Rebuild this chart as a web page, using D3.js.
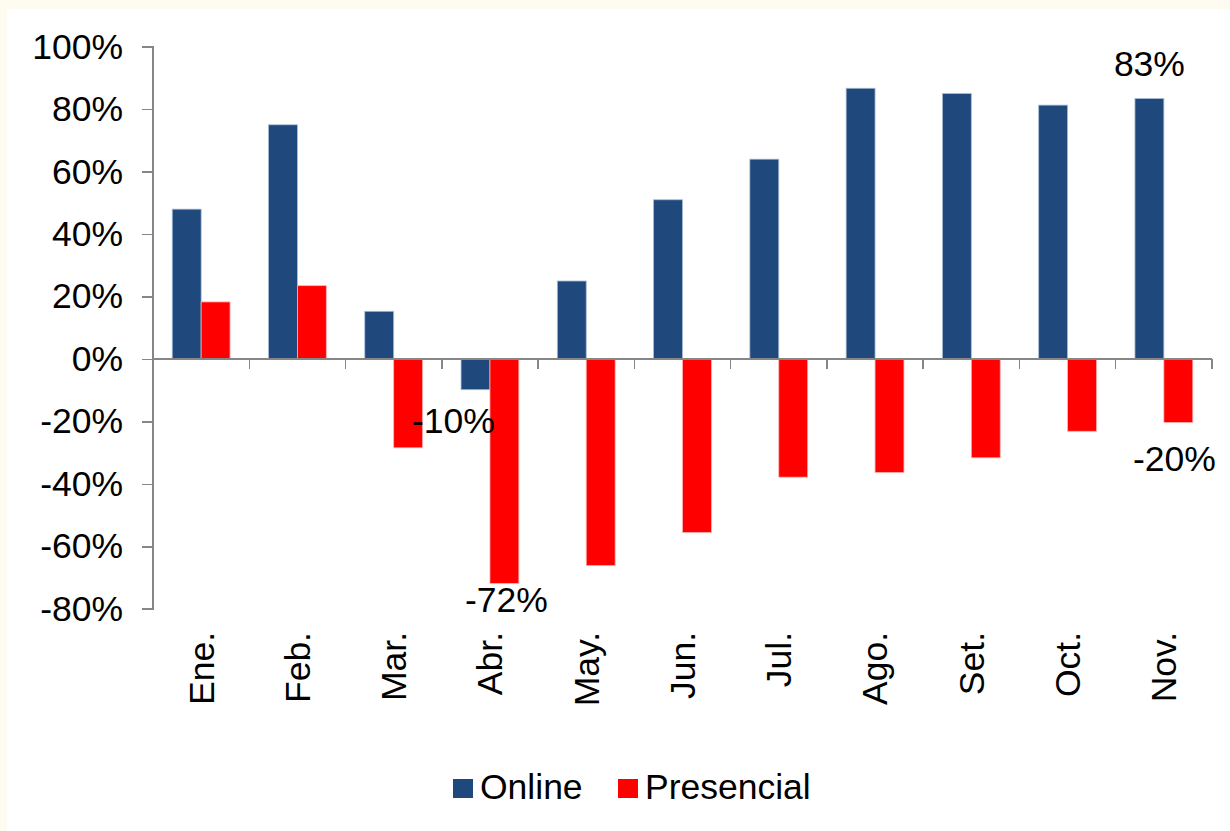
<!DOCTYPE html>
<html>
<head>
    <title>Online vs Presencial</title>
    <script src="https://d3js.org/d3.v7.min.js"></script>
    <style>
        body { margin: 0; background: #fefbf1; }
        text { font-family: "Liberation Sans", Arial, sans-serif; fill: #000; }
        .axis path, .axis line {
            stroke: #868686;
            stroke-width: 1.5;
            shape-rendering: crispEdges;
        }
        .axis text { font-size: 35.5px; }
    </style>
</head>
<body>
    <svg id="chart"></svg>

    <script>
        // data
        var months = ["Ene.", "Feb.", "Mar.", "Abr.", "May.", "Jun.", "Jul.", "Ago.", "Set.", "Oct.", "Nov."];
        var series = ["Online", "Presencial"];
        var online = [48, 75, 15.3, -9.8, 25, 51, 64, 86.7, 85, 81.3, 83.4];
        var presencial = [18.3, 23.5, -28.4, -71.8, -66.1, -55.5, -37.8, -36.3, -31.6, -23.1, -20.3];
        var colors = ["#1f497d", "#ff0000"];
        var yTicks = [100, 80, 60, 40, 20, 0, -20, -40, -60, -80];

        // the four labels shown on the chart: series, month, text, offsets from the bar end
        var labels = [
            {s: 0, m: "Nov.", text: "83%", dx: 0, dy: -23},
            {s: 0, m: "Abr.", text: "-10%", dx: -22, dy: 43},
            {s: 1, m: "Abr.", text: "-72%", dx: 2, dy: 29},
            {s: 1, m: "Nov.", text: "-20%", dx: -4, dy: 48}
        ];

        var W = 1230, H = 831;
        var margin = {top: 46.7, right: 18, bottom: 222, left: 153};
        var fs = "35.5px";

        var svg = d3.select("#chart")
            .attr("width", W)
            .attr("height", H)
            .style("display", "block");

        // white panel with cream strip on top/left
        svg.append("rect")
            .attr("x", 7).attr("y", 9)
            .attr("width", W - 7).attr("height", H - 9)
            .attr("fill", "#fff");

        var x = d3.scaleBand()
            .domain(months)
            .range([margin.left, W - margin.right])
            .paddingInner(0).paddingOuter(0);

        var x1 = d3.scaleBand()
            .domain(series)
            .range([0, x.bandwidth()])
            .paddingInner(0).paddingOuter(0.665);

        var y = d3.scaleLinear()
            .domain([-80, 100])
            .range([H - margin.bottom, margin.top]);

        var rows = months.map(function(m, i) {
            return {month: m, values: [online[i], presencial[i]]};
        });

        // bars
        var groups = svg.selectAll(".grp")
            .data(rows)
            .enter().append("g")
            .attr("class", "grp")
            .attr("transform", function(d) { return "translate(" + x(d.month) + ",0)"; });

        groups.selectAll("rect")
            .data(function(d) { return d.values.map(function(v, i) { return {s: i, v: v}; }); })
            .enter().append("rect")
            .attr("x", function(d) { return x1(series[d.s]); })
            .attr("y", function(d) { return y(Math.max(0, d.v)); })
            .attr("width", x1.bandwidth())
            .attr("height", function(d) { return Math.abs(y(d.v) - y(0)); })
            .attr("fill", function(d) { return colors[d.s]; })
            .attr("stroke", function(d) { return d.s === 0 ? "#a9bcd6" : "#ffb0b0"; })
            .attr("stroke-width", 0.8);

        // y axis
        var yAxis = d3.axisLeft(y)
            .tickValues(yTicks)
            .tickSize(11)
            .tickPadding(19)
            .tickFormat(function(d) { return d + "%"; });

        svg.append("g")
            .attr("class", "axis")
            .attr("transform", "translate(" + margin.left + ",0)")
            .call(yAxis)
            .call(function(g) { g.select(".domain").attr("d", "M-11," + y(100) + "H0V" + y(-80) + "H-11"); });

        // x axis at zero, ticks on category boundaries
        var bounds = months.map(function(m) { return x(m); }).concat([x.range()[1]]);
        var xg = svg.append("g").attr("class", "axis");
        xg.append("line")
            .attr("x1", x.range()[0]).attr("x2", x.range()[1])
            .attr("y1", y(0)).attr("y2", y(0));
        xg.selectAll(".tk")
            .data(bounds.slice(1))
            .enter().append("line")
            .attr("class", "tk")
            .attr("x1", function(d) { return d; }).attr("x2", function(d) { return d; })
            .attr("y1", y(0)).attr("y2", y(0) + 10);

        // month labels, rotated, below the plot
        svg.selectAll(".mlab")
            .data(months)
            .enter().append("text")
            .attr("class", "mlab")
            .attr("transform", function(d) {
                return "translate(" + (x(d) + x.bandwidth() / 2) + "," + (y(-80) + 23) + ") rotate(-90)";
            })
            .attr("text-anchor", "end")
            .attr("dy", "0.35em")
            .style("font-size", fs)
            .text(function(d) { return d; });

        // data labels
        svg.selectAll(".dlab")
            .data(labels)
            .enter().append("text")
            .attr("class", "dlab")
            .attr("x", function(d) { return x(d.m) + x1(series[d.s]) + x1.bandwidth() / 2 + d.dx; })
            .attr("y", function(d) {
                var v = d.s === 0 ? online[months.indexOf(d.m)] : presencial[months.indexOf(d.m)];
                return y(v) + d.dy;
            })
            .attr("text-anchor", "middle")
            .style("font-size", fs)
            .text(function(d) { return d.text; });

        // legend
        var legendX = [453, 618];
        var legend = svg.selectAll(".leg")
            .data(series)
            .enter().append("g")
            .attr("class", "leg")
            .attr("transform", function(d, i) { return "translate(" + legendX[i] + ",779)"; });
        legend.append("rect")
            .attr("width", 20).attr("height", 19)
            .attr("fill", function(d, i) { return colors[i]; });
        legend.append("text")
            .attr("x", 27).attr("y", 20)
            .style("font-size", fs)
            .text(function(d) { return d; });
    </script>
</body>
</html>
